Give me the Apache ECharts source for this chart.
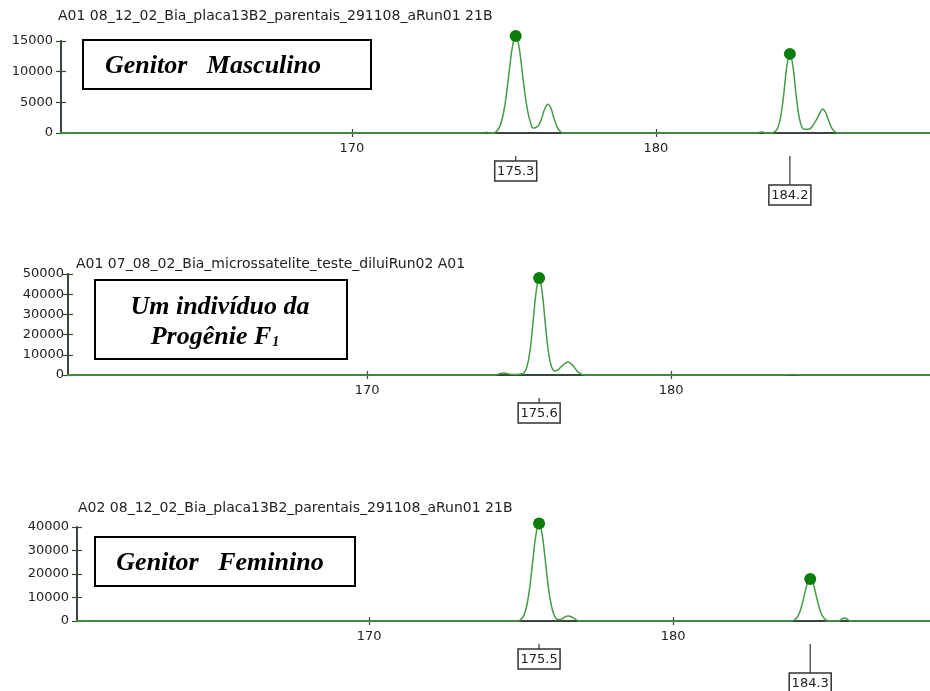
<!DOCTYPE html>
<html><head><meta charset="utf-8">
<script src="https://cdn.jsdelivr.net/npm/echarts@6/dist/echarts.min.js"></script>
<style>html,body{margin:0;padding:0;background:#fff}#c{width:930px;height:691px}</style>
</head><body><div id="c"></div>
<script>
// ---- data (size in bp, signal in RFU) ----
const titles = [
  "A01 08_12_02_Bia_placa13B2_parentais_291108_aRun01 21B",
  "A01 07_08_02_Bia_microssatelite_teste_diluiRun02 A01",
  "A02 08_12_02_Bia_placa13B2_parentais_291108_aRun01 21B"
];
const xTicks = [170, 180];
const yTicks1 = [0, 5000, 10000, 15000];
const yTicks2 = [0, 10000, 20000, 30000, 40000, 50000];
const yTicks3 = [0, 10000, 20000, 30000, 40000];

const trace1 = [
  [160.4,0],[168,0],[174.3,0],[174.42,120],[174.55,0],[174.7,80],[174.79,460],[174.89,1350],[174.99,3300],
  [175.09,6500],[175.19,10600],[175.29,14300],[175.39,15800],[175.49,14300],[175.59,10600],[175.69,6500],
  [175.79,3400],[175.89,1500],[175.97,800],[176.05,900],[176.15,1300],[176.25,2500],[176.35,4000],
  [176.45,4700],[176.55,4000],[176.65,2400],[176.75,1000],[176.85,300],[176.95,0],[180,0],
  [183.3,0],[183.49,150],[183.65,0],[183.82,60],[183.91,170],[184.01,800],[184.11,2700],[184.21,6400],
  [184.31,10900],[184.41,12900],[184.51,10900],[184.61,6400],[184.71,2700],[184.81,900],[184.9,600],
  [185.0,600],[185.1,800],[185.2,1500],[185.3,2300],[185.4,3300],[185.49,3900],[185.59,3300],
  [185.69,1950],[185.79,800],[185.89,200],[185.99,0],[189.1,0]
];
const peaks1 = [[175.39,15800],[184.41,12900]];
const calls1 = ["175.3", "184.2"];

const trace2 = [
  [160.1,0],[168,0],[174.2,0],[174.35,600],[174.47,1000],[174.6,700],[174.75,300],[174.95,300],
  [175.06,500],[175.16,1000],[175.26,4100],[175.36,12000],[175.46,26000],[175.56,41000],[175.66,48000],
  [175.76,41000],[175.86,26000],[175.96,12000],[176.06,4500],[176.18,2000],[176.3,2800],[176.45,5000],
  [176.61,6400],[176.75,5000],[176.88,2500],[177.0,800],[177.1,150],[177.3,0],[180,0],
  [183.6,0],[184.0,250],[184.4,0],[188.6,0]
];
const peaks2 = [[175.66,48000]];
const calls2 = ["175.6"];

const trace3 = [
  [160.3,0],[168,0],[174.9,0],[174.99,700],[175.09,2400],[175.19,6800],[175.29,15000],[175.39,26400],
  [175.49,37000],[175.59,41500],[175.69,37000],[175.79,26400],[175.89,15000],[175.99,6800],[176.09,2400],
  [176.19,700],[176.3,600],[176.42,1600],[176.55,2100],[176.68,1600],[176.8,600],[176.9,0],[180,0],
  [183.91,0],[184.01,670],[184.11,2200],[184.21,5500],[184.31,10600],[184.41,15700],[184.51,17900],
  [184.61,15700],[184.71,10600],[184.81,5500],[184.91,2200],[185.01,670],[185.11,0],[185.45,0],
  [185.55,900],[185.63,1300],[185.72,900],[185.82,0],[188.6,0]
];
const peaks3 = [[175.59,41500],[184.51,17900]];
const calls3 = ["175.5", "184.3"];

// ---- layout / styles ----
const panels = [
  {grid:{left:61, top:41, width:869, height:92}, xmin:160.43, xmax:189.02, ymax:15000, yint:5000,
   trace:trace1, peaks:peaks1, calls:calls1, labelMargin:8, titleX:58, titleY:17},
  {grid:{left:68, top:274, width:862, height:101}, xmin:160.16, xmax:188.52, ymax:50000, yint:10000,
   trace:trace2, peaks:peaks2, calls:calls2, labelMargin:4, titleX:76, titleY:265},
  {grid:{left:77, top:527, width:853, height:94}, xmin:160.39, xmax:188.45, ymax:40000, yint:10000,
   trace:trace3, peaks:peaks3, calls:calls3, labelMargin:8, titleX:78, titleY:509}
];
const AX = '#3a463a', TRACE = '#459c45', DOT = '#0a7d0a', TXT = '#222';
const SANS = 'DejaVu Sans';

const grid = [], xAxis = [], yAxis = [], series = [];
panels.forEach((p, i) => {
  grid.push(p.grid);
  xAxis.push({gridIndex:i, type:'value', position:'bottom', min:p.xmin, max:p.xmax, splitLine:{show:false},
    axisLine:{show:true, lineStyle:{color:AX, width:2}},
    axisTick:{show:true, length:4, customValues:xTicks, lineStyle:{color:AX, width:1.2}},
    axisLabel:{show:true, customValues:xTicks, margin:9, color:TXT, fontFamily:SANS, fontSize:13}
  });
  yAxis.push({gridIndex:i, type:'value', position:'left', min:0, max:p.ymax, interval:p.yint, splitLine:{show:false},
    axisLine:{show:true, lineStyle:{color:AX, width:2}},
    axisTick:{show:true, length:5, lineStyle:{color:AX, width:1.2}},
    axisLabel:{show:true, margin:p.labelMargin, color:TXT, fontFamily:SANS, fontSize:13, formatter:v => String(v)}
  });
});
// duplicate axes to make ticks cross the axis lines
panels.forEach((p, i) => {
  xAxis.push({gridIndex:i, type:'value', position:'bottom', min:p.xmin, max:p.xmax, splitLine:{show:false},
    axisLine:{show:false}, axisLabel:{show:false},
    axisTick:{show:true, inside:true, length:4, customValues:xTicks, lineStyle:{color:AX, width:1.2}}});
  yAxis.push({gridIndex:i, type:'value', position:'left', min:0, max:p.ymax, interval:p.yint, splitLine:{show:false},
    axisLine:{show:false}, axisLabel:{show:false},
    axisTick:{show:true, inside:true, length:5, lineStyle:{color:AX, width:1.2}}});
});
panels.forEach((p, i) => {
  series.push({type:'line', xAxisIndex:i, yAxisIndex:i, data:p.trace, showSymbol:false, smooth:0.4,
    clip:false, lineStyle:{color:TRACE, width:1.5}, z:3, silent:true});
  series.push({type:'scatter', xAxisIndex:i, yAxisIndex:i, data:p.peaks, symbolSize:12, clip:false,
    itemStyle:{color:DOT, opacity:1}, z:5, silent:true});
  series.push({type:'custom', xAxisIndex:i, yAxisIndex:i, data:p.peaks.map((pk, k) => [pk[0], 0, p.calls[k]]),
    clip:false, silent:true, z:4,
    renderItem:(params, api) => {
      const pt = api.coord([api.value(0), 0]);
      const text = p.calls[params.dataIndex];
      const lower = params.dataIndex % 2 === 1;
      const lineTop = pt[1] + 23;
      const boxTop = pt[1] + (lower ? 52 : 28);
      const w = 42, h = 20;
      return {type:'group', children:[
        {type:'line', shape:{x1:pt[0], y1:lineTop, x2:pt[0], y2:boxTop}, style:{stroke:'#333', lineWidth:1.2}},
        {type:'rect', shape:{x:pt[0]-w/2, y:boxTop, width:w, height:h}, style:{fill:'#fff', stroke:'#333', lineWidth:1.5}},
        {type:'text', x:pt[0], y:boxTop+h/2+1, style:{text:text, fill:TXT, font:'13px "DejaVu Sans"',
          align:'center', verticalAlign:'middle'}}
      ]};
    }});
});

const SERIF = '"Liberation Serif", "DejaVu Serif", serif';
const graphic = [];
panels.forEach((p, i) => {
  graphic.push({type:'text', left:p.titleX, top:p.titleY-8, style:{text:titles[i], fill:TXT, font:'14px "DejaVu Sans"'}});
});
// annotation boxes
graphic.push({type:'rect', shape:{x:83, y:40, width:288, height:49}, style:{fill:'#fff', stroke:'#000', lineWidth:2}, z:10});
graphic.push({type:'text', x:213, y:66, style:{text:'Genitor   Masculino', fill:'#000', font:'italic bold 26px '+SERIF, align:'center', verticalAlign:'middle'}, z:11});
graphic.push({type:'rect', shape:{x:95, y:280, width:252, height:79}, style:{fill:'#fff', stroke:'#000', lineWidth:2}, z:10});
graphic.push({type:'text', x:220, y:307, style:{text:'Um indivíduo da', fill:'#000', font:'italic bold 26px '+SERIF, align:'center', verticalAlign:'middle'}, z:11});
graphic.push({type:'text', x:215, y:337, style:{text:'{a|Progênie F}{s|1}', align:'center', verticalAlign:'middle',
  rich:{a:{font:'italic bold 26px '+SERIF, fill:'#000'}, s:{font:'italic bold 14px '+SERIF, fill:'#000', padding:[10,0,0,1]}}}, z:11});
graphic.push({type:'rect', shape:{x:95, y:537, width:260, height:49}, style:{fill:'#fff', stroke:'#000', lineWidth:2}, z:10});
graphic.push({type:'text', x:220, y:563, style:{text:'Genitor   Feminino', fill:'#000', font:'italic bold 26px '+SERIF, align:'center', verticalAlign:'middle'}, z:11});

const chart = echarts.init(document.getElementById('c'), null, {renderer:'canvas'});
chart.setOption({animation:false, backgroundColor:'#fff', grid, xAxis, yAxis, series, graphic});
</script></body></html>
